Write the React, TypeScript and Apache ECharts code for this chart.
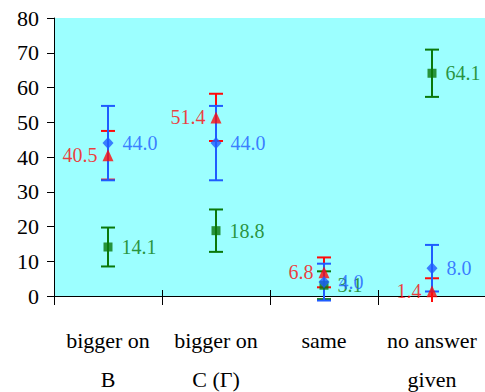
import React, { useEffect, useRef } from "react";
import * as echarts from "echarts";

// Answer categories along the horizontal axis
const categories = ["bigger on\nB", "bigger on\nC (Γ)", "same", "no answer\ngiven"];
const yTicks = [0, 10, 20, 30, 40, 50, 60, 70, 80];

// Percentages with their error-bar half-widths
const blueValues = [44.0, 44.0, 4.0, 8.0];
const blueErrors = [10.7, 10.7, 5.3, 6.7];
const redValues = [40.5, 51.4, 6.8, 1.4];
const redErrors = [7.0, 6.8, 4.3, 3.7];
const greenValues = [14.1, 18.8, 3.1, 64.1];
const greenErrors = [5.6, 6.1, 4.0, 6.8];

const BLUE = "#1f5cff";
const RED = "#ff0a0a";
const GREEN = "#0a780a";
const FONT = "'Liberation Serif', 'Times New Roman', serif";

function errorSeries(values: number[], errors: number[], color: string, z: number) {
  return {
    type: "custom",
    z,
    silent: true,
    data: values.map((v, i) => [i, v - errors[i], v + errors[i]]),
    renderItem: (params: any, api: any) => {
      const lo = api.coord([api.value(0), api.value(1)]);
      const hi = api.coord([api.value(0), api.value(2)]);
      const bottomLimit = params.coordSys.y + params.coordSys.height + 6;
      const half = 7;
      const style = { stroke: color, lineWidth: 2 };
      const clipped = lo[1] > bottomLimit;
      const loY = clipped ? bottomLimit : lo[1];
      const children: any[] = [
        { type: "line", shape: { x1: hi[0], y1: hi[1], x2: lo[0], y2: loY }, style },
        { type: "line", shape: { x1: hi[0] - half, y1: hi[1], x2: hi[0] + half, y2: hi[1] }, style },
      ];
      if (!clipped) {
        children.push({ type: "line", shape: { x1: lo[0] - half, y1: lo[1], x2: lo[0] + half, y2: lo[1] }, style });
      }
      return { type: "group", children };
    },
  };
}

function markerSeries(
  values: number[],
  color: string,
  symbol: string,
  size: number | number[],
  labelPos: string,
  z: number
) {
  return {
    type: "scatter",
    z,
    data: values,
    symbol,
    symbolSize: size,
    itemStyle: { color },
    label: {
      show: true,
      position: labelPos,
      distance: labelPos === "left" ? 5 : 9,
      color,
      fontSize: 20,
      fontFamily: FONT,
      formatter: (p: any) => Number(p.value).toFixed(1),
    },
  };
}

export default function App() {
  const ref = useRef<HTMLDivElement>(null);

  useEffect(() => {
    if (!ref.current) return;
    const chart = echarts.init(ref.current, undefined, { renderer: "svg" });
    chart.setOption({
      animation: false,
      textStyle: { fontFamily: FONT },
      grid: {
        left: 54,
        top: 18,
        width: 432,
        height: 278,
        outerBoundsMode: "none",
        containLabel: false,
        show: true,
        backgroundColor: "#9cffff",
        borderWidth: 0,
      },
      xAxis: [
        {
          type: "category",
          data: categories,
          position: "bottom",
          boundaryGap: true,
          axisLine: { show: true, lineStyle: { color: "#000", width: 1 } },
          axisTick: { show: false },
          axisLabel: {
            interval: 0,
            color: "#000",
            fontSize: 22,
            fontFamily: FONT,
            lineHeight: 39,
            margin: 25,
          },
          splitLine: { show: false },
        },
        {
          // category boundary ticks that cross the axis line
          type: "category",
          data: categories,
          position: "bottom",
          offset: -6,
          boundaryGap: true,
          axisLine: { show: false },
          axisTick: { show: true, length: 15, lineStyle: { color: "#000", width: 1 } },
          axisLabel: { show: false },
          splitLine: { show: false },
        },
      ],
      yAxis: {
        type: "value",
        min: yTicks[0],
        max: yTicks[yTicks.length - 1],
        interval: 10,
        axisLine: { show: true, lineStyle: { color: "#000", width: 1 } },
        axisTick: { show: true, length: 7, lineStyle: { color: "#000", width: 1 } },
        axisLabel: {
          color: "#000",
          fontSize: 22,
          fontFamily: FONT,
          margin: 15,
        },
        splitLine: { show: false },
      },
      series: [
        errorSeries(greenValues, greenErrors, GREEN, 2),
        errorSeries(redValues, redErrors, RED, 3),
        errorSeries(blueValues, blueErrors, BLUE, 4),
        markerSeries(greenValues, GREEN, "rect", 9, "right", 5),
        markerSeries(redValues, RED, "triangle", [11, 12], "left", 6),
        markerSeries(blueValues, BLUE, "diamond", [11, 12], "right", 7),
      ],
    });
    return () => chart.dispose();
  }, []);

  return (
    <div
      ref={ref}
      style={{ position: "fixed", left: 0, top: 0, width: 485, height: 392, background: "#fff" }}
    />
  );
}
